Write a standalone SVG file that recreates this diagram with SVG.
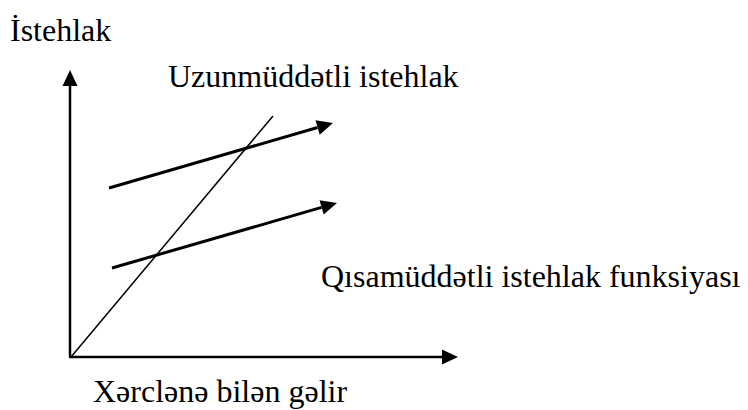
<svg xmlns="http://www.w3.org/2000/svg" width="748" height="410" viewBox="0 0 748 410">
<style>
.t{font-family:"Liberation Serif","Times New Roman",serif;font-size:32px;fill:#000}
.ax{stroke:#000;stroke-width:2.5;fill:none}
.ar{stroke:#000;stroke-width:3;fill:none}
.dg{stroke:#000;stroke-width:1.5;fill:none}
</style>
<defs>
<marker id="ah" markerUnits="userSpaceOnUse" markerWidth="16" markerHeight="15" viewBox="0 0 16 15" refX="0" refY="7.5" orient="auto" overflow="visible">
<path d="M0,0 L16,7.5 L0,15 Z" fill="#000"/>
</marker>
</defs>
<rect width="748" height="410" fill="#fff"/>
<g id="connectors">
<line class="ax" x1="70" y1="357" x2="70" y2="86" marker-end="url(#ah)"/>
<line class="ax" x1="69" y1="357" x2="442" y2="357" marker-end="url(#ah)"/>
<line class="dg" x1="71" y1="357" x2="273" y2="116"/>
<line class="ar" x1="109" y1="188" x2="317.6" y2="127.5" marker-end="url(#ah)"/>
<line class="ar" x1="112" y1="268" x2="321.6" y2="207.4" marker-end="url(#ah)"/>
</g>
<g id="label-y"><text class="t" x="10" y="41">İstehlak</text></g>
<g id="label-long"><text class="t" x="168" y="87">Uzunmüddətli istehlak</text></g>
<g id="label-short"><text class="t" x="321" y="287">Qısamüddətli istehlak funksiyası</text></g>
<g id="label-x"><text class="t" x="93" y="402">Xərclənə bilən gəlir</text></g>
</svg>
